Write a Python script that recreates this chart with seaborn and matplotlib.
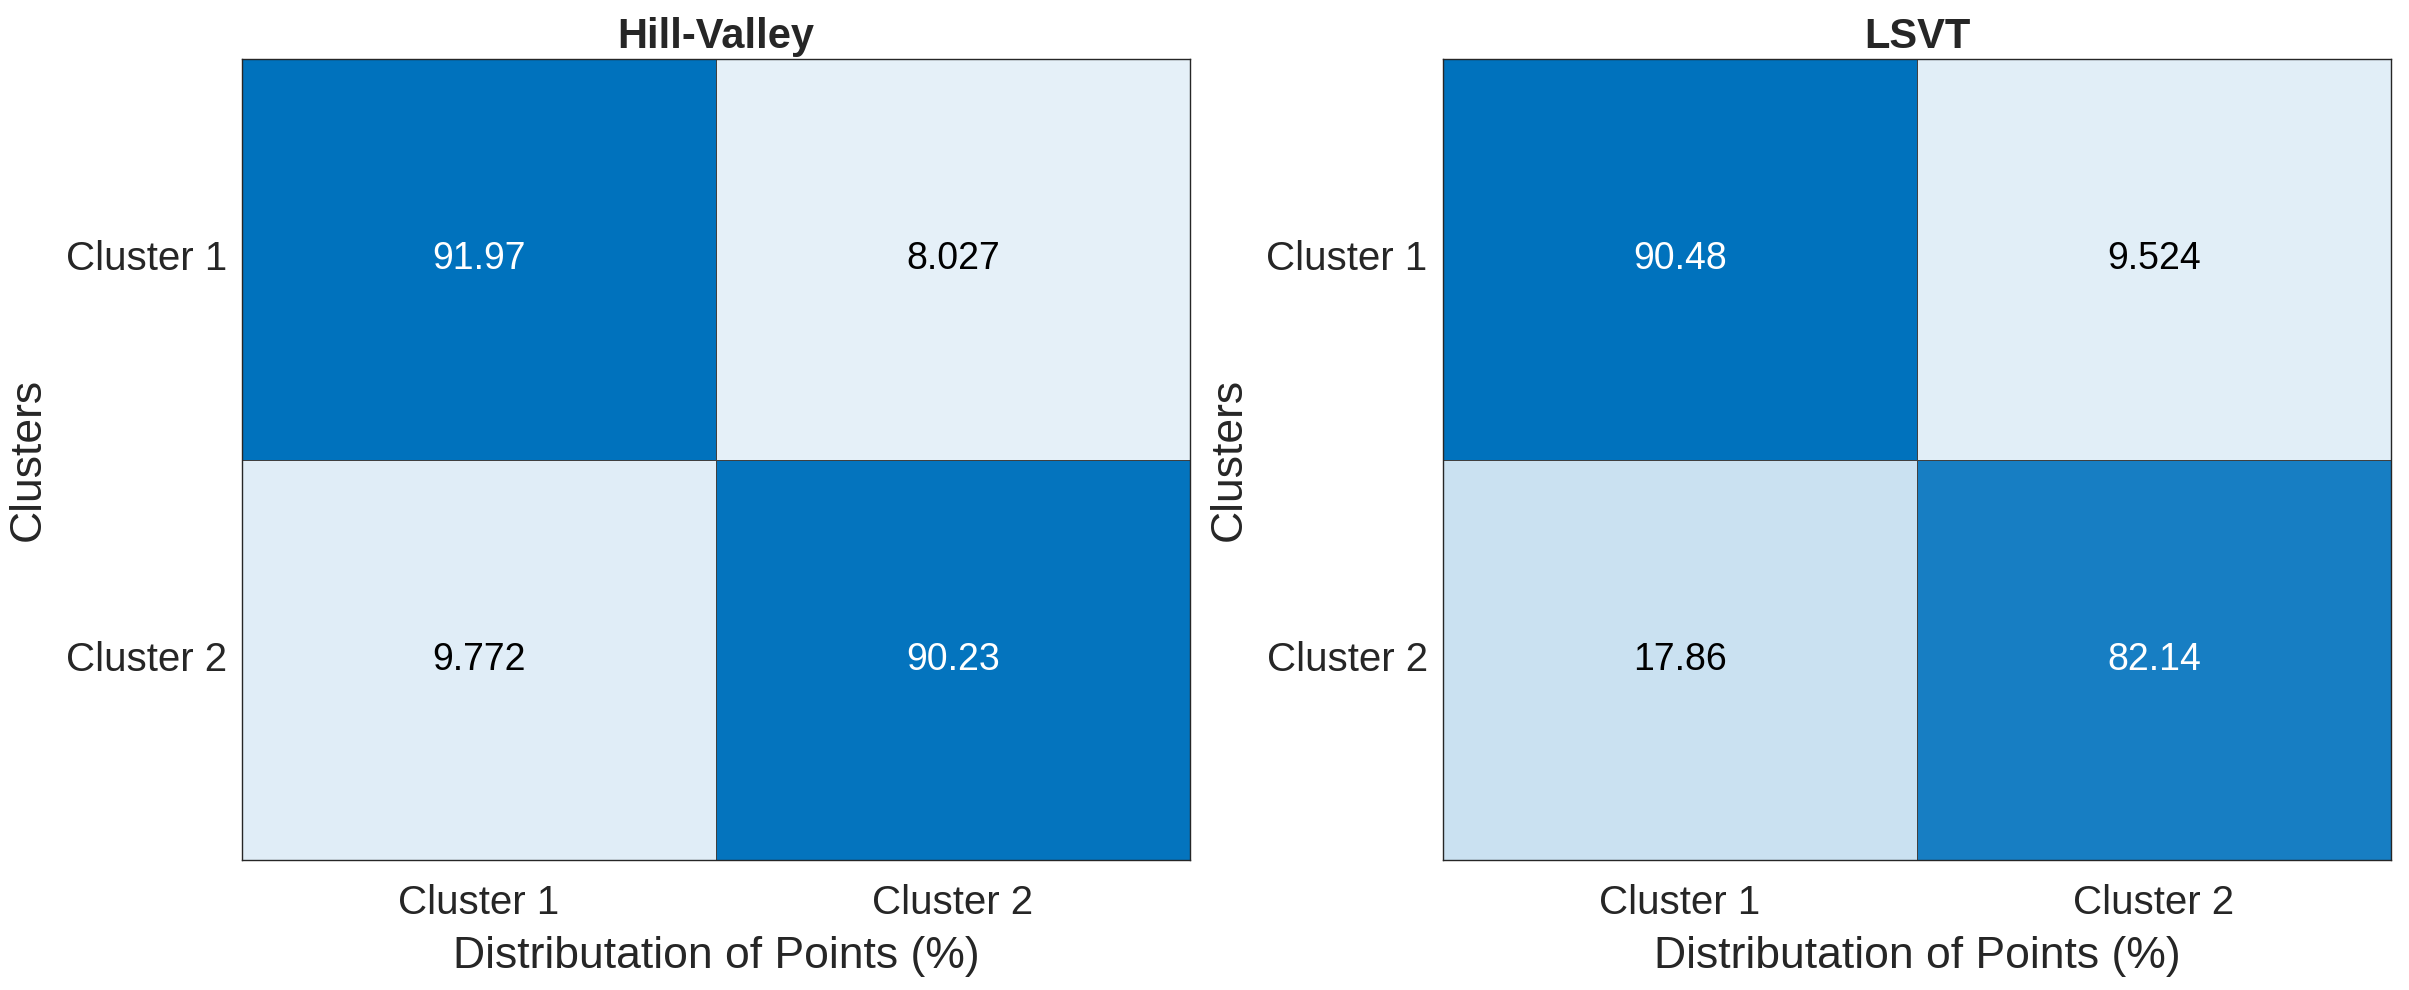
import numpy as np
import pandas as pd
import seaborn as sns
import matplotlib.pyplot as plt
from matplotlib.colors import LinearSegmentedColormap

# data (rows = clusters, columns = distribution)
clusters = ["Cluster 1", "Cluster 2"]
titles = ["Hill-Valley", "LSVT"]
hill_valley = [[91.97, 8.027],
               [9.772, 90.23]]
lsvt = [[90.48, 9.524],
        [17.86, 82.14]]

sns.set_style("white")
plt.rcParams['font.family'] = ['Liberation Sans', 'DejaVu Sans']

cmap = LinearSegmentedColormap.from_list("wb", ["#fbfcfe", "#0072BD"])

fig = plt.figure(figsize=(24.09, 9.9), dpi=100)
positions = [[0.1005, 0.1313, 0.3935, 0.809],
             [0.599, 0.1313, 0.3935, 0.809]]

for pos, title, vals in zip(positions, titles, [hill_valley, lsvt]):
    ax = fig.add_axes(pos)
    df = pd.DataFrame(vals, index=clusters, columns=clusters)
    vmax = np.max(vals)
    sns.heatmap(df, ax=ax, cmap=cmap, vmin=0, vmax=vmax, cbar=False,
                annot=False, linewidths=0.7, linecolor="#404040")
    # cell labels, white on dark cells
    for i in range(2):
        for j in range(2):
            v = vals[i][j]
            ax.text(j + 0.5, i + 0.5, f"{v:.4g}", ha="center", va="center",
                    fontsize=27, color="white" if v / vmax > 0.5 else "black")
    for s in ax.spines.values():
        s.set_visible(True)
        s.set_color("#262626")
        s.set_linewidth(1.0)
    ax.tick_params(length=0, labelsize=29)
    ax.tick_params(axis="x", pad=17)
    ax.tick_params(axis="y", pad=11)
    ax.set_yticklabels(clusters, rotation=0)
    ax.set_xticklabels(clusters, rotation=0)
    ax.set_title(title, fontsize=30, fontweight="bold", pad=8, color="#262626")
    ax.set_xlabel("Distributation of Points (%)", fontsize=32, labelpad=10, color="#262626")
    ax.set_ylabel("Clusters", fontsize=32, labelpad=12, color="#262626")
    for lab in ax.get_xticklabels() + ax.get_yticklabels():
        lab.set_color("#262626")

plt.savefig("out.png", dpi=100)
